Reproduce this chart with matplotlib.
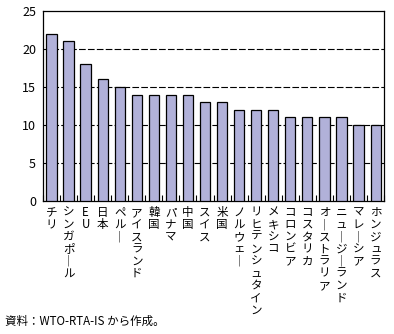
import matplotlib
matplotlib.use('Agg')
import matplotlib.pyplot as plt
import matplotlib.transforms as mtransforms
import numpy as np
plt.rcParams.update({'font.size': 8, 'font.family': ['Noto Sans CJK JP', 'DejaVu Sans']})


#. data
countries = ['チリ', 'シンガポール', 'EU', '日本', 'ペルー', 'アイスランド', '韓国', 'パナマ',
             '中国', 'スイス', '米国', 'ノルウェー', 'リヒテンシュタイン', 'メキシコ', 'コロンビア',
             'コスタリカ', 'オーストラリア', 'ニュージーランド', 'マレーシア', 'ホンジュラス']
n_rta = [22, 21, 18, 16, 15, 14, 14, 14, 14, 13, 13, 12, 12, 12, 11, 11, 11, 11, 10, 10]
yticks = [0, 5, 10, 15, 20, 25]
note = '資料：WTO-RTA-IS から作成。'


def vertical(s):
    # long vowel mark turns into a vertical bar when written top to bottom
    return '\n'.join('｜' if c == 'ー' else c for c in s)


#. plotting
fig = plt.figure(figsize=(3.94, 3.34), dpi=100)
ax = fig.add_axes([0.109, 0.398, 0.866, 0.569])

x = np.arange(len(countries))
ax.bar(x, n_rta, width=0.6, color='#b1b1d9', edgecolor='black', lw=0.9, zorder=3)

ax.set_xlim(-0.5, len(countries) - 0.5)
ax.set_ylim(0, 25)
ax.set_yticks(yticks)
for yv in yticks[1:-1]:
    ax.axhline(yv, color='black', lw=0.8, ls=(0, (6, 2)), zorder=1)

ax.set_xticks(np.arange(len(countries) + 1) - 0.5)
ax.set_xticklabels([])
ax.tick_params(axis='x', direction='in', length=4, width=0.8)
ax.tick_params(axis='y', direction='in', length=0, pad=5, labelsize=9)
for sp in ax.spines.values():
    sp.set_linewidth(0.9)

trans = mtransforms.blended_transform_factory(ax.transData, ax.transAxes)
for i, c in enumerate(countries):
    ax.text(i, -0.025, vertical(c), transform=trans, ha='center', va='top',
            fontsize=8.3, linespacing=0.92)

fig.text(0.012, 0.038, note, fontsize=8.3, ha='left', va='center')

plt.savefig('out.png', dpi=100)
